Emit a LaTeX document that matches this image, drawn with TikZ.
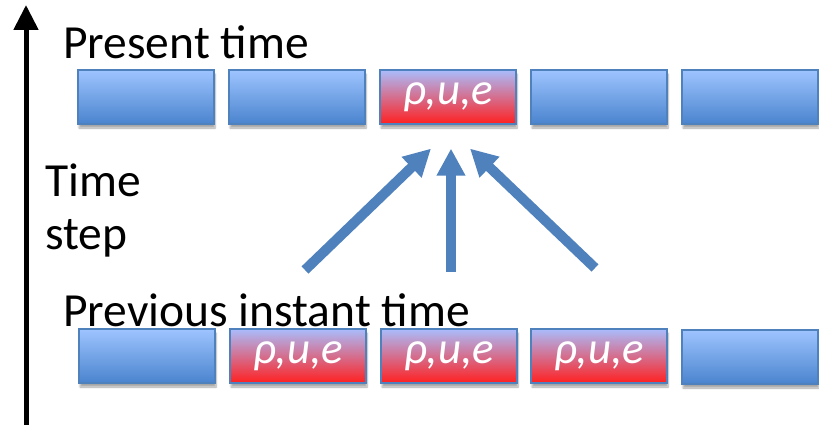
\documentclass[tikz,border=0pt]{standalone}
\usepackage{fontspec}
\setmainfont{Carlito}
\usetikzlibrary{arrows.meta,shadows.blur,positioning}

\definecolor{edgeblue}{RGB}{79,129,189}
\definecolor{celltop}{RGB}{158,196,255}
\definecolor{cellbot}{RGB}{74,132,206}
\definecolor{hottop}{RGB}{170,188,252}
\definecolor{hotmid}{RGB}{228,150,196}
\definecolor{hotbot}{RGB}{255,32,32}

\tikzset{
  cell/.style={draw=edgeblue, line width=1.2pt, minimum width=136pt,
    minimum height=54pt, inner sep=0pt, top color=celltop, bottom color=cellbot,
    blur shadow={shadow xshift=1pt, shadow yshift=-4pt, shadow blur steps=6, shadow opacity=35}},
  hot/.style={cell, top color=hottop, middle color=hotmid, bottom color=hotbot,
    text=white, font=\itshape\fontsize{45}{45}\selectfont},
  caption/.style={anchor=base west, inner sep=0pt, font=\fontsize{47.5}{50}\selectfont},
  flow/.style={draw=edgeblue, line width=10pt, -{Triangle[width=27pt,length=27pt]}},
  axis/.style={draw=black, line width=5pt, -{Triangle[width=24pt,length=25pt]}}
}

\begin{document}
\begin{tikzpicture}[x=1pt,y=-1pt]
\useasboundingbox (0,0) rectangle (819,425);

% time axis
\coordinate (t0) at (26,425);
\coordinate (t1) at (26,5);
\draw[axis] (t0) -- (t1);

% present row
\node[cell] (p1) at (146,97) {};
\node[cell] (p2) at (297,97) {};
\node[hot]  (p3) at (448,97) {ρ,u,e};
\node[cell] (p4) at (599,97) {};
\node[cell] (p5) at (750,97) {};

% previous row
\node[cell] (q1) at (147,356) {};
\node[hot]  (q2) at (298,356) {ρ,u,e};
\node[hot]  (q3) at (449,356) {ρ,u,e};
\node[hot]  (q4) at (599,356) {ρ,u,e};
\node[cell] (q5) at (750,357) {};

% labels
\node[caption] (present) at (63,59) {Present time};
\node[caption] (previous) at (63,326) {Previous instant time};
\node[caption] (tstep) at (45,196) {Time};
\node[caption] (tstep2) at (45,249) {step};

% stencil arrows
\coordinate (fromL) at (305,270);
\coordinate (fromM) at (451,272);
\coordinate (fromR) at (595,268);
\draw[flow] (fromL) -- ([xshift=-17pt,yshift=-24pt]p3.south);
\draw[flow] (fromM) -- ([xshift=3pt,yshift=-24pt]p3.south);
\draw[flow] (fromR) -- ([xshift=22pt,yshift=-24pt]p3.south);
\end{tikzpicture}
\end{document}
